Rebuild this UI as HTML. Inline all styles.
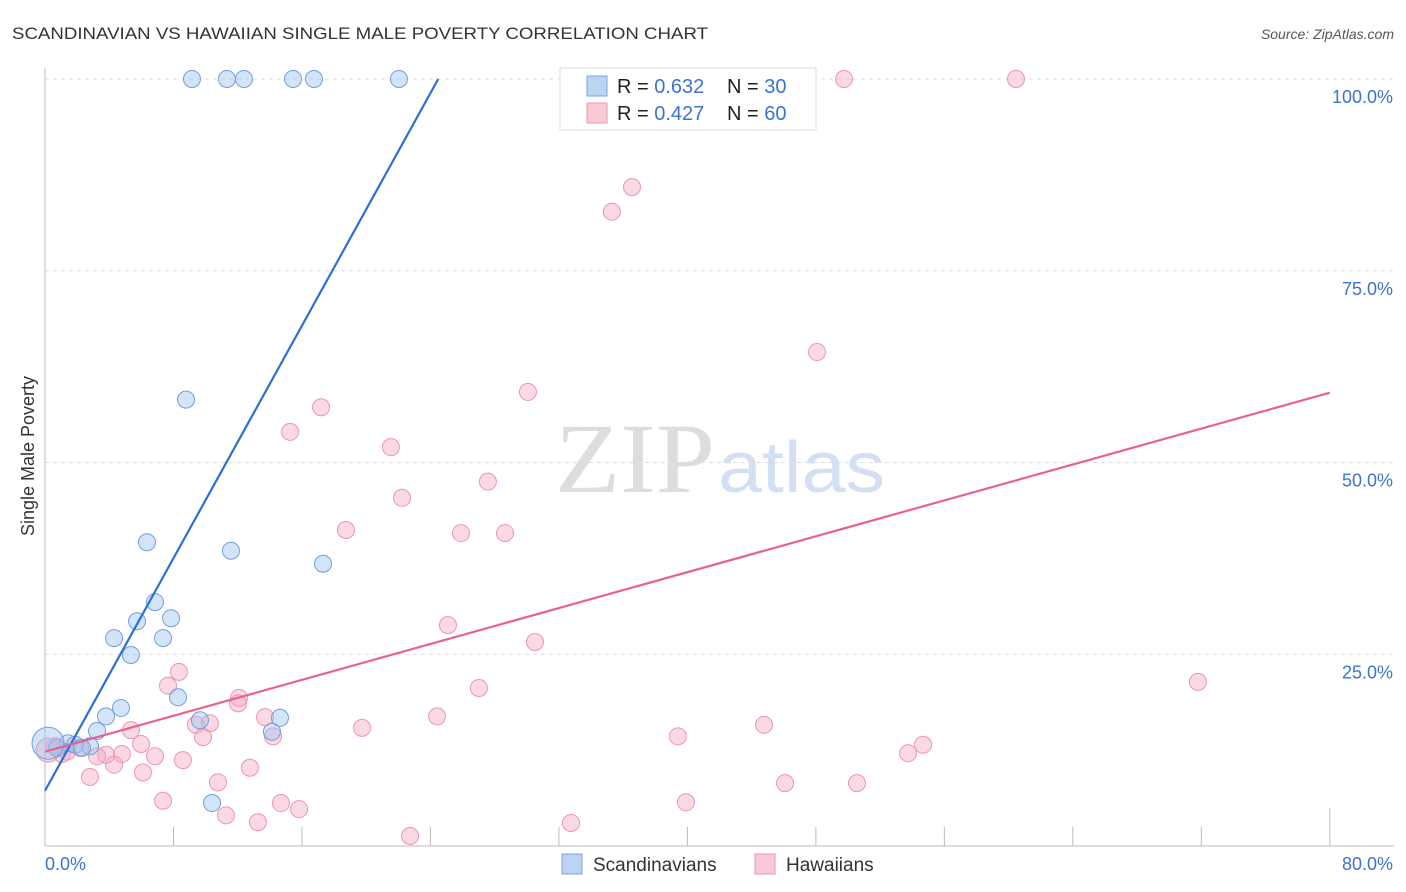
<!DOCTYPE html>
<html><head><meta charset="utf-8"><style>
body{margin:0;background:#fff;font-family:"Liberation Sans",sans-serif}
svg{display:block}
</style></head><body>
<svg width="1406" height="892">
<text x="12" y="39" font-size="17" fill="#333" textLength="696" lengthAdjust="spacingAndGlyphs">SCANDINAVIAN VS HAWAIIAN SINGLE MALE POVERTY CORRELATION CHART</text>
<text x="1394" y="39" font-size="14" fill="#555" font-style="italic" text-anchor="end">Source: ZipAtlas.com</text>
<text x="555" y="492" font-size="100" fill="#ddd" textLength="160" lengthAdjust="spacingAndGlyphs" font-family="Liberation Serif">ZIP</text>
<text x="718" y="492" font-size="72" fill="#d3e0f3" textLength="167" lengthAdjust="spacingAndGlyphs">atlas</text>
<g id="grid"></g>
<g id="axes"></g>
<g id="pts"></g>
<g id="trends"></g>
<text transform="translate(34,456) rotate(-90)" font-size="18" fill="#333" text-anchor="middle">Single Male Poverty</text>
<text x="45" y="870" font-size="18" fill="#3b73d0">0.0%</text>
<text x="1393" y="870" font-size="18" fill="#3b73d0" text-anchor="end">80.0%</text>
<g>
<rect x="560" y="68" width="256" height="62" fill="#fff" stroke="#ddd"/>
<rect x="587" y="76" width="20" height="20" fill="#bcd4f4" stroke="#7aa6e0"/>
<rect x="587" y="103" width="20" height="20" fill="#f9c9d6" stroke="#eb96b0"/>
<text x="617" y="93" font-size="20" fill="#222">R = <tspan fill="#3b73d0">0.632</tspan><tspan x="727">N = </tspan><tspan fill="#3b73d0">30</tspan></text>
<text x="617" y="120" font-size="20" fill="#222">R = <tspan fill="#3b73d0">0.427</tspan><tspan x="727">N = </tspan><tspan fill="#3b73d0">60</tspan></text>
</g>
<g><rect x="562" y="854" width="20" height="20" fill="#bcd4f4" stroke="#7aa6e0"/><text x="593" y="871" font-size="19" fill="#333">Scandinavians</text></g>
<g><rect x="755" y="854" width="20" height="20" fill="#f9c9d6" stroke="#eb96b0"/><text x="786" y="871" font-size="19" fill="#333">Hawaiians</text></g>
</svg>
<script>
const yTicks=[25,50,75,100];
const yTickLabels=["25.0%","50.0%","75.0%","100.0%"];
const xTicks=[8,16,24,32,40,48,56,64,72,80];
const blueX=[9.15,11.33,12.39,15.44,16.75,22.04,8.78,6.35,11.58,17.31,6.85,7.85,5.73,4.30,7.35,5.35,8.28,4.73,3.8,9.65,14.63,3.24,14.13,10.4,1.43,2.8,1.87,0.75,2.3,0.19];
const blueY=[100,100,100,100,100,100,58.2,39.6,38.5,36.8,31.8,29.7,29.3,27.1,27.1,24.9,19.4,18.0,16.9,16.4,16.7,15.0,14.9,5.6,13.4,13.0,13.2,12.8,12.8,13.4];
const pinkX=[49.75,60.46,36.55,35.3,48.07,30.07,17.19,15.26,21.54,22.23,27.58,18.74,25.9,28.64,25.09,30.51,8.34,7.66,12.08,12.02,27.02,71.79,13.7,24.41,19.74,9.4,10.27,14.2,9.84,44.77,39.41,54.67,53.74,5.35,5.98,6.85,8.59,4.79,3.8,3.24,4.3,12.76,10.77,6.1,2.8,7.35,14.69,15.82,11.27,13.26,22.73,32.75,39.91,46.08,50.56,1.37,2.18,0.62,1.06,0.19];
const pinkY=[100,100,85.9,82.7,64.4,59.2,57.2,54.0,52.0,45.4,47.5,41.2,40.8,40.8,28.8,26.6,22.7,20.9,19.3,18.6,20.6,21.4,16.8,16.9,15.4,15.8,16.0,14.3,14.2,15.8,14.3,13.2,12.1,15.1,13.3,11.7,11.2,12.0,11.9,11.7,10.6,10.2,8.3,9.6,9.0,5.9,5.6,4.8,4.0,3.1,1.3,3.0,5.7,8.2,8.2,12.3,12.8,13.0,12.0,12.5];
const blueTrend=[7.2,3.79];   // intercept, slope
const pinkTrend=[12.3,0.585];
const NS="http://www.w3.org/2000/svg";
const X=v=>45+v*16.06, Y=v=>846-v*7.67;
function mk(p,t,a){const e=document.createElementNS(NS,t);for(const k in a)e.setAttribute(k,a[k]);p.appendChild(e);return e;}
const grid=document.getElementById('grid');
yTicks.forEach((t,i)=>{
 const l=mk(grid,'line',{x1:45,x2:1394,y1:Y(t),y2:Y(t),stroke:'#ddd','stroke-dasharray':'4,4'});
 
 
 const tx=mk(grid,'text',{x:1393,y:Y(t)+24,'font-size':18,fill:'#3b73d0','text-anchor':'end'});
 tx.textContent=yTickLabels[i];
 
 
});
const ax=document.getElementById('axes');
const yl=mk(ax,'line',{x1:45,x2:45,y1:68,y2:846,stroke:'#bbb'});


const xl=mk(ax,'line',{x1:45,x2:1394,y1:846,y2:846,stroke:'#bbb'});


xTicks.forEach(t=>{
 const l=mk(ax,'line',{x1:X(t),x2:X(t),y1:t==80?808:827,y2:846,stroke:'#bbb'});
 
 
});
const pts=document.getElementById('pts');
pinkX.forEach((v,i)=>{
 const c=mk(pts,'circle',{cx:X(v),cy:Y(pinkY[i]),r:i==pinkX.length-1?12:8.5,fill:'rgba(245,170,195,0.45)',stroke:'#eb96b0','stroke-width':1});
 
 
});
blueX.forEach((v,i)=>{
 const c=mk(pts,'circle',{cx:X(v),cy:Y(blueY[i]),r:i==blueX.length-1?16:8.5,fill:'rgba(160,195,240,0.45)',stroke:'#6f9fe0','stroke-width':1});
 
 
});
const tr=document.getElementById('trends');
const bx2=(100-blueTrend[0])/blueTrend[1];
const bl=mk(tr,'line',{x1:X(0),y1:Y(blueTrend[0]),x2:X(bx2),y2:Y(100),stroke:'#2c6fd6','stroke-width':2.2});


const pl=mk(tr,'line',{x1:X(0),y1:Y(pinkTrend[0]),x2:X(80),y2:Y(pinkTrend[0]+80*pinkTrend[1]),stroke:'#e8628e','stroke-width':2.2});


</script>
</body></html>
